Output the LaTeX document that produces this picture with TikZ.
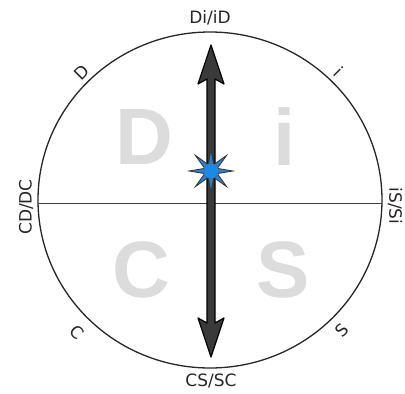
\documentclass[tikz,border=0pt]{standalone}
\usepackage{fontspec}
\setmainfont{DejaVu Sans}
\newfontfamily\bigfont{Liberation Sans}
\usetikzlibrary{shapes.geometric}
\definecolor{biggray}{HTML}{DCDCDC}
\definecolor{arrowgray}{HTML}{3A3A3A}
\definecolor{starblue}{HTML}{2F7FCF}
\definecolor{dotblue}{HTML}{1A8AE8}
\tikzset{
  lbl/.style={inner sep=0pt, font=\fontsize{17}{19}\selectfont, text=black!85},
  bigl/.style={inner sep=0pt, font=\bigfont\bfseries\fontsize{80}{80}\selectfont, text=biggray},
}
\begin{document}
\begin{tikzpicture}[x=1pt,y=-1pt]
\useasboundingbox (0,0) rectangle (405,394);
% big letters
\node[bigl] (bD) at (144,137) {D};
\node[bigl] (bi) at (285,137) {i};
\node[bigl] (bC) at (141,270) {C};
\node[bigl] (bS) at (283,270) {S};
% circle
\node[draw=black!85, line width=1.3pt, ellipse, minimum width=344pt, minimum height=336pt, inner sep=0pt] (circ) at (210,200) {};
\coordinate (hl) at (38,203);
\coordinate (hr) at (382,203);
\draw[black!75, line width=1pt] (hl) -- (hr);
% labels
\node[lbl] (top) at (210,18) {Di/iD};
\node[lbl] (bot) at (211,381) {CS/SC};
\node[lbl, rotate=90] (left) at (26,207) {CD/DC};
\node[lbl, rotate=-90] (right) at (395,206) {iS/Si};
\node[lbl, rotate=45] (sD) at (82,72) {D};
\node[lbl, rotate=-45] (si) at (339,72) {i};
\node[lbl, rotate=-45] (sC) at (77,332) {C};
\node[lbl, rotate=45] (sS) at (342,330) {S};
% arrow
\draw[fill=arrowgray, draw=black, line width=1.2pt, line join=round]
  (211,45) -- (224,84) -- (215,79) -- (215,323) -- (224,318) -- (211,357)
  -- (198,318) -- (207,323) -- (207,79) -- (198,84) -- cycle;
% star
\node[star, star points=8, star point ratio=3.2, minimum size=44pt, inner sep=0pt,
      fill=starblue, draw=black!80, line width=0.8pt] (star) at (211,171) {};
\node[circle, minimum size=15pt, inner sep=0pt, fill=dotblue, draw=black!60, line width=0.5pt] (dot) at (star.center) {};
\end{tikzpicture}
\end{document}
